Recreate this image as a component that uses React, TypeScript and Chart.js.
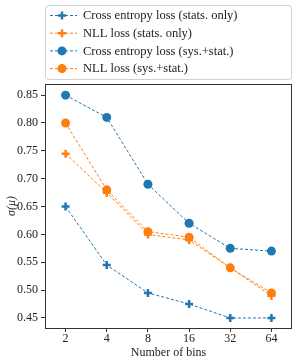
import React, { useEffect, useRef } from "react";
import { Chart, registerables } from "chart.js";
Chart.register(...registerables);

const X_LABELS = ["2", "4", "8", "16", "32", "64"];
const Y_TICKS = [0.45, 0.5, 0.55, 0.6, 0.65, 0.7, 0.75, 0.8, 0.85];
const CE_STATS = [0.65, 0.545, 0.495, 0.475, 0.45, 0.45];
const NLL_STATS = [0.745, 0.675, 0.6, 0.59, 0.54, 0.49];
const CE_SYS = [0.85, 0.81, 0.69, 0.62, 0.575, 0.57];
const NLL_SYS = [0.8, 0.68, 0.605, 0.595, 0.54, 0.495];
const SERIES_NAMES = [
  "Cross entropy loss (stats. only)",
  "NLL loss (stats. only)",
  "Cross entropy loss (sys.+stat.)",
  "NLL loss (sys.+stat.)",
];

const BLUE = "#1f77b4";
const ORANGE = "#ff7f0e";
const FONT = "'Liberation Serif', serif";

const toPts = (arr: number[]) => arr.map((y, i) => ({ x: i, y }));

export default function App() {
  const ref = useRef<HTMLCanvasElement | null>(null);
  useEffect(() => {
    if (!ref.current) return;
    const mk = (label: string, data: number[], color: string, style: string) => ({
      label,
      data: toPts(data),
      borderColor: color,
      backgroundColor: color,
      borderWidth: 1,
      borderDash: [3, 2],
      pointStyle: style,
      pointRadius: style === "circle" ? 4.5 : 4,
      pointBorderWidth: style === "circle" ? 0 : 2.5,
      pointBorderColor: color,
      pointBackgroundColor: color,
      tension: 0,
    });
    const datasets = [
      mk(SERIES_NAMES[0], CE_STATS, BLUE, "cross"),
      mk(SERIES_NAMES[1], NLL_STATS, ORANGE, "cross"),
      mk(SERIES_NAMES[2], CE_SYS, BLUE, "circle"),
      mk(SERIES_NAMES[3], NLL_SYS, ORANGE, "circle"),
    ];
    const framePlugin = {
      id: "frame",
      afterDraw(chart: any) {
        const { ctx, chartArea: a } = chart;
        ctx.save();
        ctx.strokeStyle = "#333";
        ctx.lineWidth = 1;
        ctx.strokeRect(Math.round(a.left) + 0.5, Math.round(a.top) + 0.5, Math.round(a.right - a.left) - 1, Math.round(a.bottom - a.top));
        // legend
        const lx = 45.5, ly = 5.5, lw = 246, lh = 74;
        ctx.strokeStyle = "#d0d0d0";
        ctx.fillStyle = "rgba(255,255,255,0.8)";
        ctx.beginPath();
        (ctx as any).roundRect(lx, ly, lw, lh, 3);
        ctx.fill();
        ctx.stroke();
        const colors = [BLUE, ORANGE, BLUE, ORANGE];
        const styles = ["cross", "cross", "circle", "circle"];
        ctx.font = `12.5px ${FONT}`;
        ctx.textBaseline = "middle";
        for (let i = 0; i < 4; i++) {
          const y = 15.5 + i * 17.7;
          ctx.strokeStyle = colors[i];
          ctx.lineWidth = 1;
          ctx.setLineDash([3, 2]);
          ctx.beginPath();
          ctx.moveTo(50, y);
          ctx.lineTo(77, y);
          ctx.stroke();
          ctx.setLineDash([]);
          if (styles[i] === "circle") {
            ctx.fillStyle = colors[i];
            ctx.beginPath();
            ctx.arc(62, y, 4.5, 0, Math.PI * 2);
            ctx.fill();
          } else {
            ctx.lineWidth = 2.5;
            ctx.beginPath();
            ctx.moveTo(58, y);
            ctx.lineTo(66, y);
            ctx.moveTo(62, y - 4);
            ctx.lineTo(62, y + 4);
            ctx.stroke();
          }
          ctx.fillStyle = "#222";
          ctx.fillText(SERIES_NAMES[i], 83, y + 0.5);
        }
        ctx.restore();
      },
    };
    const chart = new Chart(ref.current, {
      type: "line",
      data: { datasets: datasets as any },
      plugins: [framePlugin],
      options: {
        animation: false,
        responsive: false,
        layout: { padding: { top: 84, right: 7, left: 5, bottom: 0 } },
        plugins: { legend: { display: false }, tooltip: { enabled: false } },
        scales: {
          x: {
            type: "linear",
            min: -0.5,
            max: 5.5,
            afterBuildTicks: (s: any) => {
              s.ticks = X_LABELS.map((_, i) => ({ value: i }));
            },
            afterFit: (s: any) => {
              s.height = 35;
            },
            ticks: {
              callback: (v: any) => X_LABELS[v] ?? "",
              font: { family: FONT, size: 12 },
              color: "#222",
              padding: 0,
              maxRotation: 0,
            },
            grid: { drawOnChartArea: false, drawTicks: true, tickLength: 4, color: "#333" },
            border: { display: false },
            title: {
              display: true,
              text: "Number of bins",
              font: { family: FONT, size: 12 },
              color: "#222",
              padding: { top: 0, bottom: 3 },
            },
          },
          y: {
            type: "linear",
            min: 0.432,
            max: 0.87,
            afterBuildTicks: (s: any) => {
              s.ticks = Y_TICKS.map((v) => ({ value: v }));
            },
            afterFit: (s: any) => {
              s.width = 40;
            },
            ticks: {
              callback: (v: any) => Number(v).toFixed(2),
              font: { family: FONT, size: 12 },
              color: "#222",
              padding: 3,
            },
            grid: { drawOnChartArea: false, drawTicks: true, tickLength: 4, color: "#333" },
            border: { display: false },
            title: {
              display: true,
              text: "σ(μ)",
              font: { family: FONT, size: 12, style: "italic" },
              color: "#222",
              padding: { top: 0, bottom: 0 },
            },
          },
        },
      },
    });
    return () => chart.destroy();
  }, []);
  return (
    <div style={{ position: "fixed", left: 0, top: 0, width: 299, height: 363 }}>
      <canvas ref={ref} width={299} height={363} />
    </div>
  );
}
